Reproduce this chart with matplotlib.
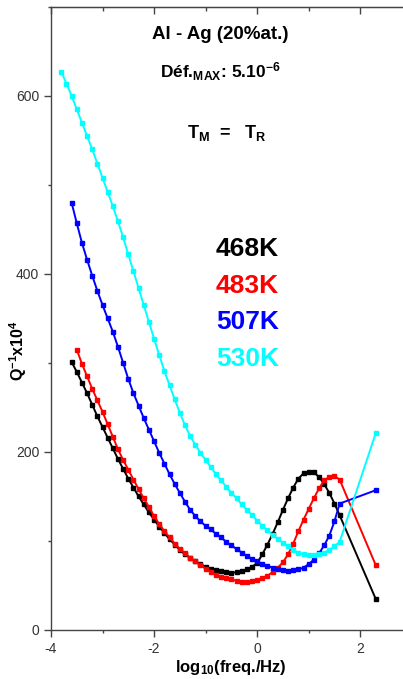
import matplotlib
matplotlib.use("Agg")
import matplotlib.pyplot as plt
from matplotlib.ticker import MultipleLocator

plt.rcParams["font.family"] = ["Liberation Sans", "DejaVu Sans"]
plt.rcParams["mathtext.fontset"] = "custom"
plt.rcParams["mathtext.rm"] = "Liberation Sans:bold"
plt.rcParams["mathtext.it"] = "Liberation Sans:bold"
plt.rcParams["mathtext.bf"] = "Liberation Sans:bold"
plt.rcParams["axes.unicode_minus"] = False

# log10(freq/Hz) grid, shared by all curves (each curve uses its tail)
FREQ = [-3.8, -3.7, -3.6, -3.5, -3.4, -3.3, -3.2, -3.1, -3.0, -2.9,
        -2.8, -2.7, -2.6, -2.5, -2.4, -2.3, -2.2, -2.1, -2.0, -1.9,
        -1.8, -1.7, -1.6, -1.5, -1.4, -1.3, -1.2, -1.1, -1.0, -0.9,
        -0.8, -0.7, -0.6, -0.5, -0.4, -0.3, -0.2, -0.1, 0.0, 0.1,
        0.2, 0.3, 0.4, 0.5, 0.6, 0.7, 0.8, 0.9, 1.0, 1.1,
        1.2, 1.3, 1.4, 1.5, 1.6, 2.3]

# Q^-1 x 10^4
Q_468 = [301, 290, 278, 266, 253, 240, 228, 216, 204, 192,
         181, 170, 160, 150, 141, 132, 124, 116, 109, 102,
         96, 90, 85, 81, 77, 74, 71, 69, 67, 66,
         65, 64, 65, 66, 68, 71, 75, 85, 96, 108,
         121, 135, 148, 160, 170, 176, 178, 177, 172, 164,
         154, 142, 129, 35]
Q_483 = [315, 299, 285, 271, 258, 245, 231, 217, 203, 191,
         180, 169, 158, 148, 138, 128, 119, 111, 104, 97,
         91, 86, 81, 77, 73, 69, 65, 62, 60, 58,
         57, 55, 54, 54, 55, 56, 58, 61, 65, 70,
         76, 85, 97, 111, 124, 136, 148, 159, 168, 172,
         173, 169, 73]
Q_507 = [480, 457, 435, 416, 398, 381, 365, 350, 335, 318,
         300, 282, 266, 252, 238, 225, 212, 199, 187, 175,
         164, 154, 144, 135, 128, 122, 117, 113, 108, 104,
         99, 95, 91, 87, 83, 80, 77, 74, 72, 70,
         68, 67, 66, 67, 68, 70, 74, 79, 86, 95,
         106, 122, 142, 157]
Q_530 = [627, 614, 600, 585, 570, 555, 540, 524, 508, 492,
         476, 459, 441, 422, 403, 384, 365, 346, 327, 309,
         291, 275, 259, 244, 230, 218, 208, 199, 191, 183,
         175, 168, 161, 154, 148, 141, 135, 129, 123, 117,
         112, 107, 102, 98, 94, 90, 87, 85, 84, 84,
         85, 87, 90, 94, 99, 221]

LABELS = ["468K", "483K", "507K", "530K"]
COLORS = ["black", "#ff0000", "#0000ff", "#00ffff"]

fig = plt.figure(figsize=(4.03, 6.79), dpi=100)
ax = fig.add_axes([0.1266, 0.0722, 0.8734, 0.9175])

for q, c in zip([Q_468, Q_483, Q_507, Q_530], COLORS):
    ax.plot(FREQ[-len(q):], q, "s-", color=c, lw=1.4, ms=3.2, mec=c)

ax.set_xlim(-4, 2.83)
ax.set_ylim(0, 700)

# axes styling
axis_col = "#444444"
for side in ["left", "bottom", "top"]:
    ax.spines[side].set_color(axis_col)
    ax.spines[side].set_linewidth(1.0)
ax.spines["right"].set_visible(False)

ax.xaxis.set_major_locator(MultipleLocator(2))
ax.xaxis.set_minor_locator(MultipleLocator(1))
ax.yaxis.set_major_locator(MultipleLocator(200))
ax.yaxis.set_minor_locator(MultipleLocator(100))
ax.tick_params(axis="x", which="both", direction="out", top=False, color=axis_col,
               labelsize=10, labelcolor="#333333", pad=3.5)
ax.tick_params(axis="y", which="both", direction="out", right=False, color=axis_col,
               labelsize=10, labelcolor="#333333", pad=3.5)
ax.tick_params(which="major", length=5, width=1.0)
ax.tick_params(which="minor", length=2.5, width=1.0)

# top ticks point inward
top = ax.secondary_xaxis("top")
top.xaxis.set_major_locator(MultipleLocator(2))
top.xaxis.set_minor_locator(MultipleLocator(1))
top.tick_params(which="both", direction="in", labeltop=False, color=axis_col, width=1.0)
top.tick_params(which="major", length=5)
top.tick_params(which="minor", length=3)
top.spines["top"].set_color(axis_col)

ax.set_xlabel(r"log$_{\mathregular{10}}$(freq./Hz)", fontsize=12, fontweight="bold")
ax.xaxis.set_label_coords(0.51, -0.045)
ax.set_ylabel(r"Q$^{\mathregular{-1}}$x10$^{\mathregular{4}}$", fontsize=11.5, fontweight="bold")
ax.yaxis.set_label_coords(-0.062, 0.449)

# annotations
ax.text(-0.72, 669, "Al - Ag (20%at.)", ha="center", va="center",
        fontsize=13.5, fontweight="bold")
ax.text(-0.72, 627, r"Déf.$_{\mathregular{MAX}}$: 5.10$^{\mathregular{-6}}$",
        ha="center", va="center", fontsize=12.5, fontweight="bold")
ax.text(-0.58, 558, r"T$_{\mathregular{M}}$  =   T$_{\mathregular{R}}$",
        ha="center", va="center", fontsize=13, fontweight="bold")

for i, (lab, c) in enumerate(zip(LABELS, COLORS)):
    ax.text(-0.8, 428 - i * 41, lab, color=c, ha="left", va="center",
            fontsize=19, fontweight="bold")

fig.savefig("out.png", dpi=100)
